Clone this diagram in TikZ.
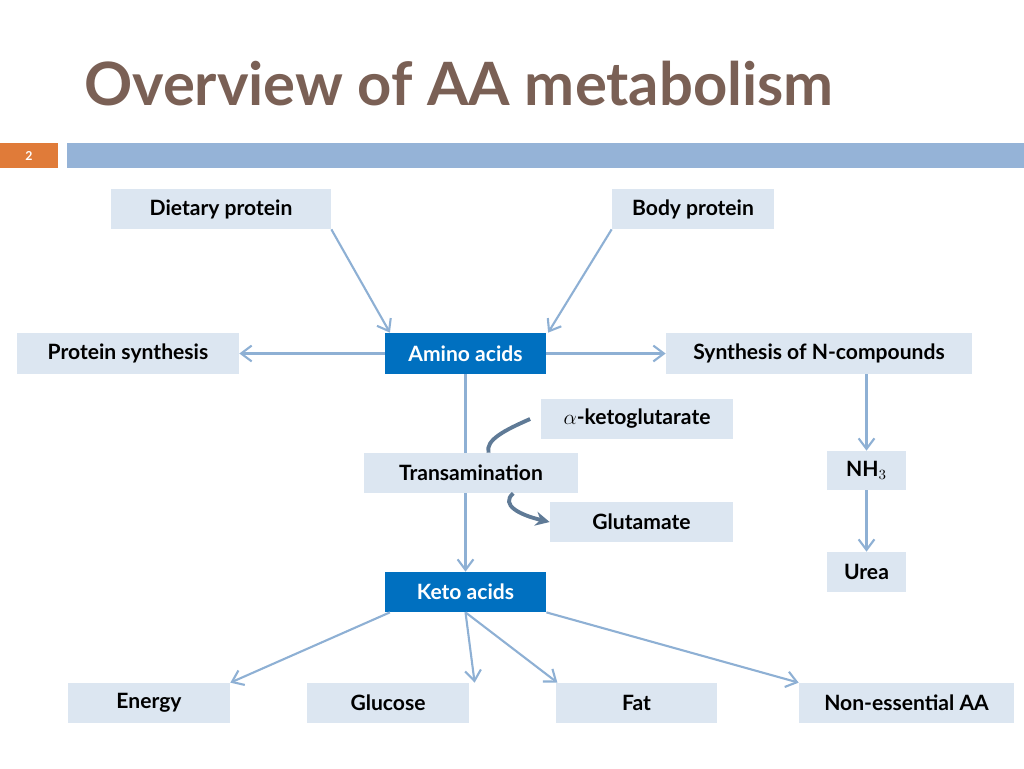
\documentclass[tikz,border=0pt]{standalone}
\usepackage{fontspec}
\setmainfont{Lato}
\usetikzlibrary{arrows.meta}
\definecolor{titlebrown}{HTML}{7A6055}
\definecolor{barblue}{HTML}{95B3D7}
\definecolor{barorange}{HTML}{E07B39}
\definecolor{boxfill}{HTML}{DCE6F1}
\definecolor{darkbox}{HTML}{0070C0}
\definecolor{arrowblue}{HTML}{8EB0D4}
\definecolor{curvegray}{HTML}{5F7A96}
\tikzset{
  box/.style={fill=boxfill, inner sep=0pt, font=\bfseries\fontsize{12}{14}\selectfont},
  darkbox/.style={fill=darkbox, text=white, inner sep=0pt, font=\bfseries\fontsize{12}{14}\selectfont},
  arr/.style={draw=arrowblue, line width=1.2pt, -{Straight Barb[length=6pt,width=9pt]}},
  curve/.style={draw=curvegray, line width=2.2pt},
}
\newcommand{\bx}[6]{\node[#1, minimum width=#4*0.02cm-#2*0.02cm, minimum height=#5*0.02cm-#3*0.02cm] (#6) at ({(#2+#4)/2},{(#3+#5)/2})}
\begin{document}
\begin{tikzpicture}[x=0.02cm,y=-0.02cm]
\useasboundingbox (0,0) rectangle (1024,768);
\node[anchor=west, text=titlebrown, font=\bfseries\fontsize{34}{40}\selectfont] (title) at (78,84) {Overview of AA metabolism};
\fill[barorange] (0,143) rectangle (58,168);
\node[text=white, font=\bfseries\fontsize{7}{8}\selectfont] (num) at (29,155.5) {2};
\fill[barblue] (67,143) rectangle (1024,168);

\bx{box}{111}{189}{331}{229}{diet} {Dietary protein};
\bx{box}{612}{189}{774}{229}{body} {Body protein};
\bx{box}{17}{333}{239}{374}{psyn} {Protein synthesis};
\bx{darkbox}{385}{333}{546}{374}{aa} {Amino acids};
\bx{box}{666}{333}{972}{374}{nsyn} {Synthesis of N-compounds};
\bx{box}{541}{399}{733}{439}{akg} {$\alpha$-ketoglutarate};
\bx{box}{827}{451}{906}{490}{nh3} {NH$_3$};
\bx{box}{827}{552}{906}{592}{urea} {Urea};
\bx{darkbox}{385}{572}{546}{612}{keto} {Keto acids};
\bx{box}{68}{683}{230}{723}{energy} {Energy};
\bx{box}{307}{683}{469}{723}{glucose} {Glucose};
\bx{box}{556}{683}{717}{723}{fat} {Fat};
\bx{box}{799}{683}{1014}{723}{neaa} {Non-essential AA};

\draw[arr] (aa.south) -- (keto.north);
\bx{box}{364}{453}{578}{493}{trans} {Transamination};
\bx{box}{550}{502}{733}{542}{glu} {Glutamate};

\draw[arr] (diet.south east) -- ([xshift=3]aa.north west);
\draw[arr] (body.south west) -- ([xshift=1]aa.north east);
\draw[arr] (aa.west) -- (psyn.east);
\draw[arr] (aa.east) -- (nsyn.west);
\draw[arr] (nsyn.south -| nh3) -- (nh3.north);
\draw[arr] (nh3.south) -- (urea.north);
\draw[arr] ([xshift=3]keto.south west) -- (energy.north east);
\draw[arr] (keto.south) -- ([xshift=3]glucose.north east);
\draw[arr] (keto.south) -- ([xshift=1]fat.north west);
\draw[arr] (keto.south east) -- (neaa.north west);

\draw[curve] ([xshift=-6]akg.west) .. controls (505,430) and (485,440) .. ([xshift=10]trans.north);
\draw[curve, -{Stealth[length=8pt,width=8pt]}] ([xshift=24]trans.south) .. controls (500,505) and (520,515) .. (glu.west);
\end{tikzpicture}
\end{document}
